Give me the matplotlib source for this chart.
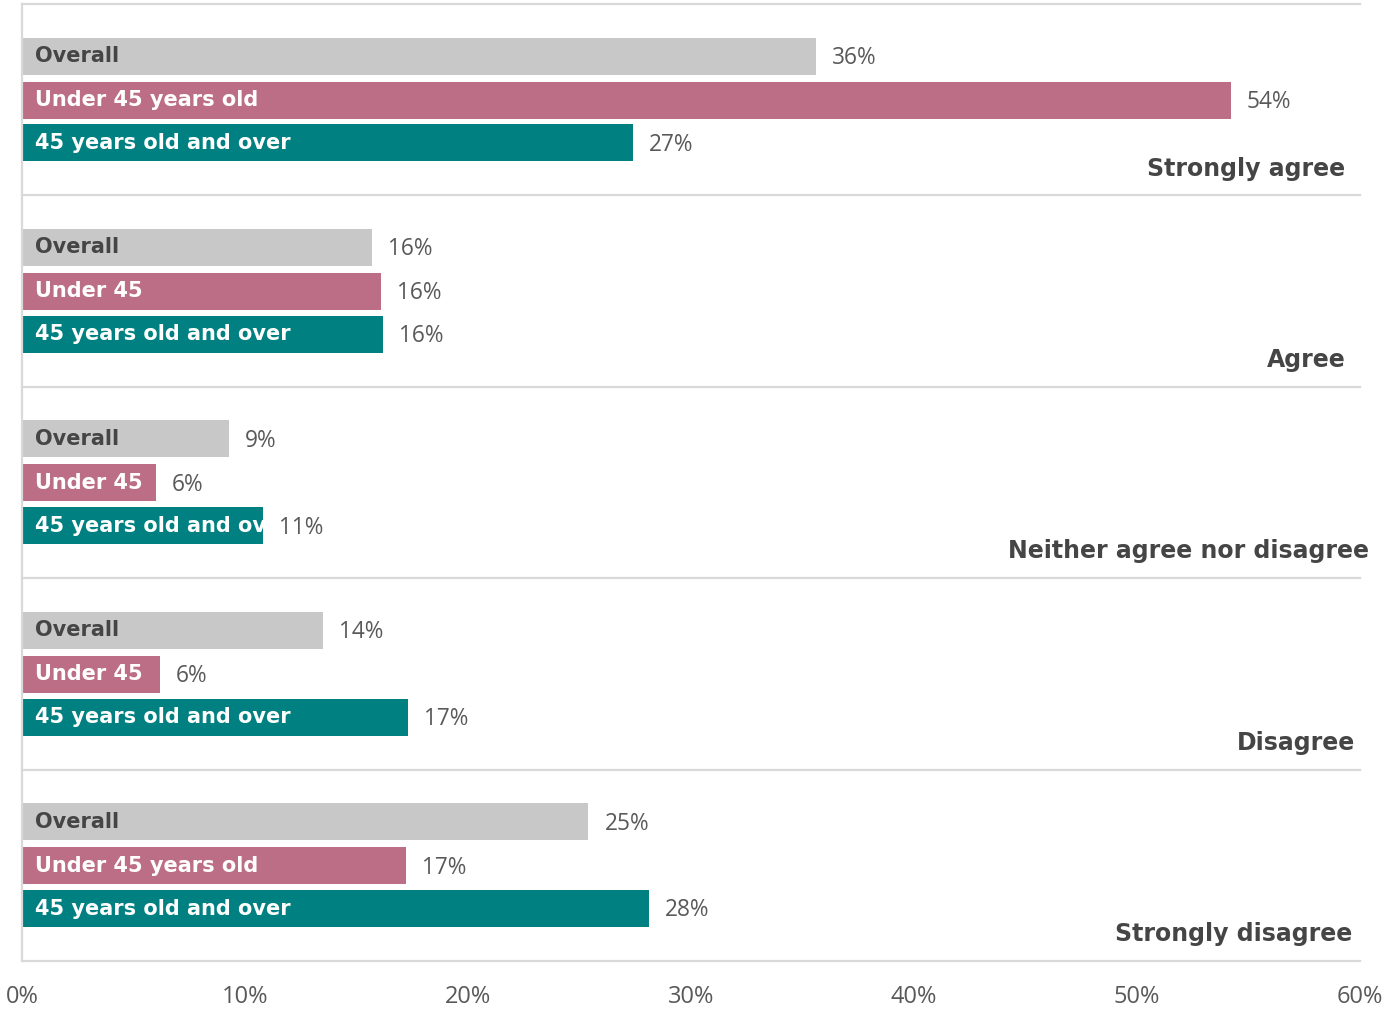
import matplotlib
matplotlib.use("Agg")
import matplotlib.pyplot as plt

# Survey responses by age group (percent of respondents)
responses = ["Strongly agree", "Agree", "Neither agree nor disagree",
             "Disagree", "Strongly disagree"]
overall = [35.6, 15.7, 9.3, 13.5, 25.4]
under_45 = [54.2, 16.1, 6.0, 6.2, 17.2]
over_45 = [27.4, 16.2, 10.8, 17.3, 28.1]

# Text written inside the bars for each response group
overall_names = ["Overall"] * 5
under_names = ["Under 45 years old", "Under 45", "Under 45", "Under 45",
               "Under 45 years old"]
over_names = ["45 years old and over"] * 5

x_ticks = [0, 10, 20, 30, 40, 50, 60]
x_tick_labels = ["0%", "10%", "20%", "30%", "40%", "50%", "60%"]

# Right-hand anchor (in %) of each response heading
heading_anchor = [59.33, 59.37, 60.4, 59.78, 59.64]

GREY = "#C8C8C8"
PINK = "#BC6E86"
TEAL = "#008080"
GRID = "#D9D9D9"
DARK = "#454545"
VALUE = "#595959"

BOLD_FONT = "DejaVu Sans"
LIGHT_FONT = "Open Sans"

W, H = 1395, 1014
fig = plt.figure(figsize=(W / 100, H / 100), dpi=100)
ax = fig.add_axes([22 / W, 1 - 961 / H, (1360 - 22) / W, (961 - 4) / H])
ax.set_xlim(0, 60)
ax.set_ylim(5, 0)

series = [
    (overall, overall_names, GREY, DARK, 0.272),
    (under_45, under_names, PINK, "white", 0.502),
    (over_45, over_names, TEAL, "white", 0.726),
]
bar_h = 0.193

for values, names, color, txt_color, offset in series:
    centers = [i + offset for i in range(len(responses))]
    bars = ax.barh(centers, values, height=bar_h, color=color, zorder=2)
    for bar, name, val, yc in zip(bars, names, values, centers):
        t = ax.annotate(name, xy=(0, yc), xytext=(9.3, 0),
                        textcoords="offset points", va="center", ha="left",
                        color=txt_color, fontsize=15, fontweight="bold",
                        family=BOLD_FONT, zorder=3)
        t.set_clip_path(bar)
        ax.annotate(f"{val:.0f}%", xy=(val, yc + 0.01), xytext=(11.5, 0),
                    textcoords="offset points", va="center", ha="left",
                    color=VALUE, fontsize=16.3, family=LIGHT_FONT, zorder=3)

for i, (name, xr) in enumerate(zip(responses, heading_anchor)):
    ax.text(xr, i + 0.86, name, ha="right", va="center", color=DARK,
            fontsize=17, fontweight="bold", family=BOLD_FONT,
            clip_on=False, zorder=3)

for b in range(len(responses) + 1):
    ax.axhline(b, color=GRID, linewidth=1.6, zorder=1, clip_on=False)

for side in ["top", "right", "bottom"]:
    ax.spines[side].set_visible(False)
ax.spines["left"].set_color(GRID)
ax.spines["left"].set_linewidth(1.6)

ax.set_xticks(x_ticks)
ax.set_xticklabels(x_tick_labels, family=LIGHT_FONT, fontsize=17,
                   color=VALUE)
ax.tick_params(axis="x", length=0, pad=17)
ax.set_yticks([])

fig.savefig("out.png", dpi=100, facecolor="white")
